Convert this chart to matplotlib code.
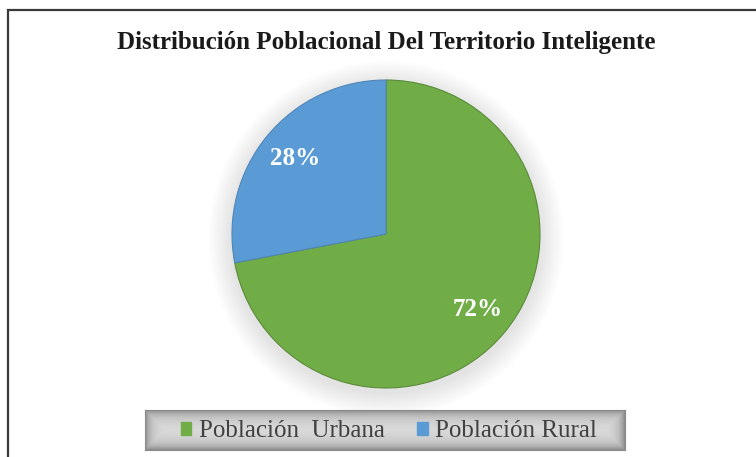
import numpy as np
import matplotlib.pyplot as plt
from matplotlib.patches import Circle, Rectangle

# data
labels = ['Población  Urbana', 'Población Rural']
values = [72, 28]
colors = ['#70AD47', '#5B9BD5']
title = 'Distribución Poblacional Del Territorio Inteligente'

plt.rcParams['font.family'] = ['Liberation Serif', 'DejaVu Serif']

W, H = 756, 457
fig = plt.figure(figsize=(W / 100, H / 100), dpi=100)

# outer chart border (only left and top edges are visible in the crop)
fig.patches.append(Rectangle((7.5 / W, -0.1), 1.2, 1 - 9.5 / H + 0.1,
                             transform=fig.transFigure, fill=False,
                             edgecolor='#3a3a3a', linewidth=1.6))

fig.text(386 / W, 1 - 42 / H, title, ha='center', va='center',
         fontsize=18, fontweight='bold', color='#1a1a1a')

# pie axes
cx, cy, r = 386, 234, 154
ax = fig.add_axes([(cx - r) / W, (H - cy - r) / H, 2 * r / W, 2 * r / H])
ax.set_xlim(-1, 1)
ax.set_ylim(-1, 1)
ax.set_aspect('equal')
ax.axis('off')

# soft shadow
for i in range(14):
    rr = 1.0 + 0.011 * (14 - i)
    ax.add_patch(Circle((0, -0.03), rr, color='#000000', alpha=0.008,
                        linewidth=0, zorder=0, clip_on=False))

wedges, texts, autotexts = ax.pie(values, colors=colors, startangle=90,
                                  counterclock=False, radius=1,
                                  autopct='%1.0f%%', pctdistance=0.77,
                                  wedgeprops=dict(linewidth=0.8, edgecolor='#5a8a3a'),
                                  textprops=dict(color='white', fontsize=18,
                                                 fontweight='bold'))
wedges[1].set_edgecolor('#4f86b8')
ax.set_xlim(-1, 1)
ax.set_ylim(-1, 1)

# legend box with gradient fill
lx0, lx1, ly0, ly1 = 145, 625, 410, 450
lax = fig.add_axes([lx0 / W, (H - ly1) / H, (lx1 - lx0) / W, (ly1 - ly0) / H])
nx, ny = 480, 40
xx = np.minimum(np.arange(nx), np.arange(nx)[::-1]) / 10.0
yy = np.minimum(np.arange(ny), np.arange(ny)[::-1]) / 10.0
d = np.minimum(xx[None, :], yy[:, None])
v = 0.86 - 0.30 * np.exp(-d * 1.6)
lax.imshow(v, cmap='gray', vmin=0, vmax=1, aspect='auto', extent=(0, 1, 0, 1))
lax.set_xlim(0, 1)
lax.set_ylim(0, 1)
for s in lax.spines.values():
    s.set_color('#8a8a8a')
lax.set_xticks([])
lax.set_yticks([])

handles = [plt.Rectangle((0, 0), 1, 1, color=c) for c in colors]
leg = fig.legend(handles, labels, loc='center', bbox_to_anchor=(389 / W, 1 - 431 / H),
                 ncol=2, frameon=False, fontsize=18, handlelength=0.42,
                 handleheight=0.42, handletextpad=0.3, columnspacing=1.3,
                 labelcolor='#404040')

fig.savefig('out.png', dpi=100)
